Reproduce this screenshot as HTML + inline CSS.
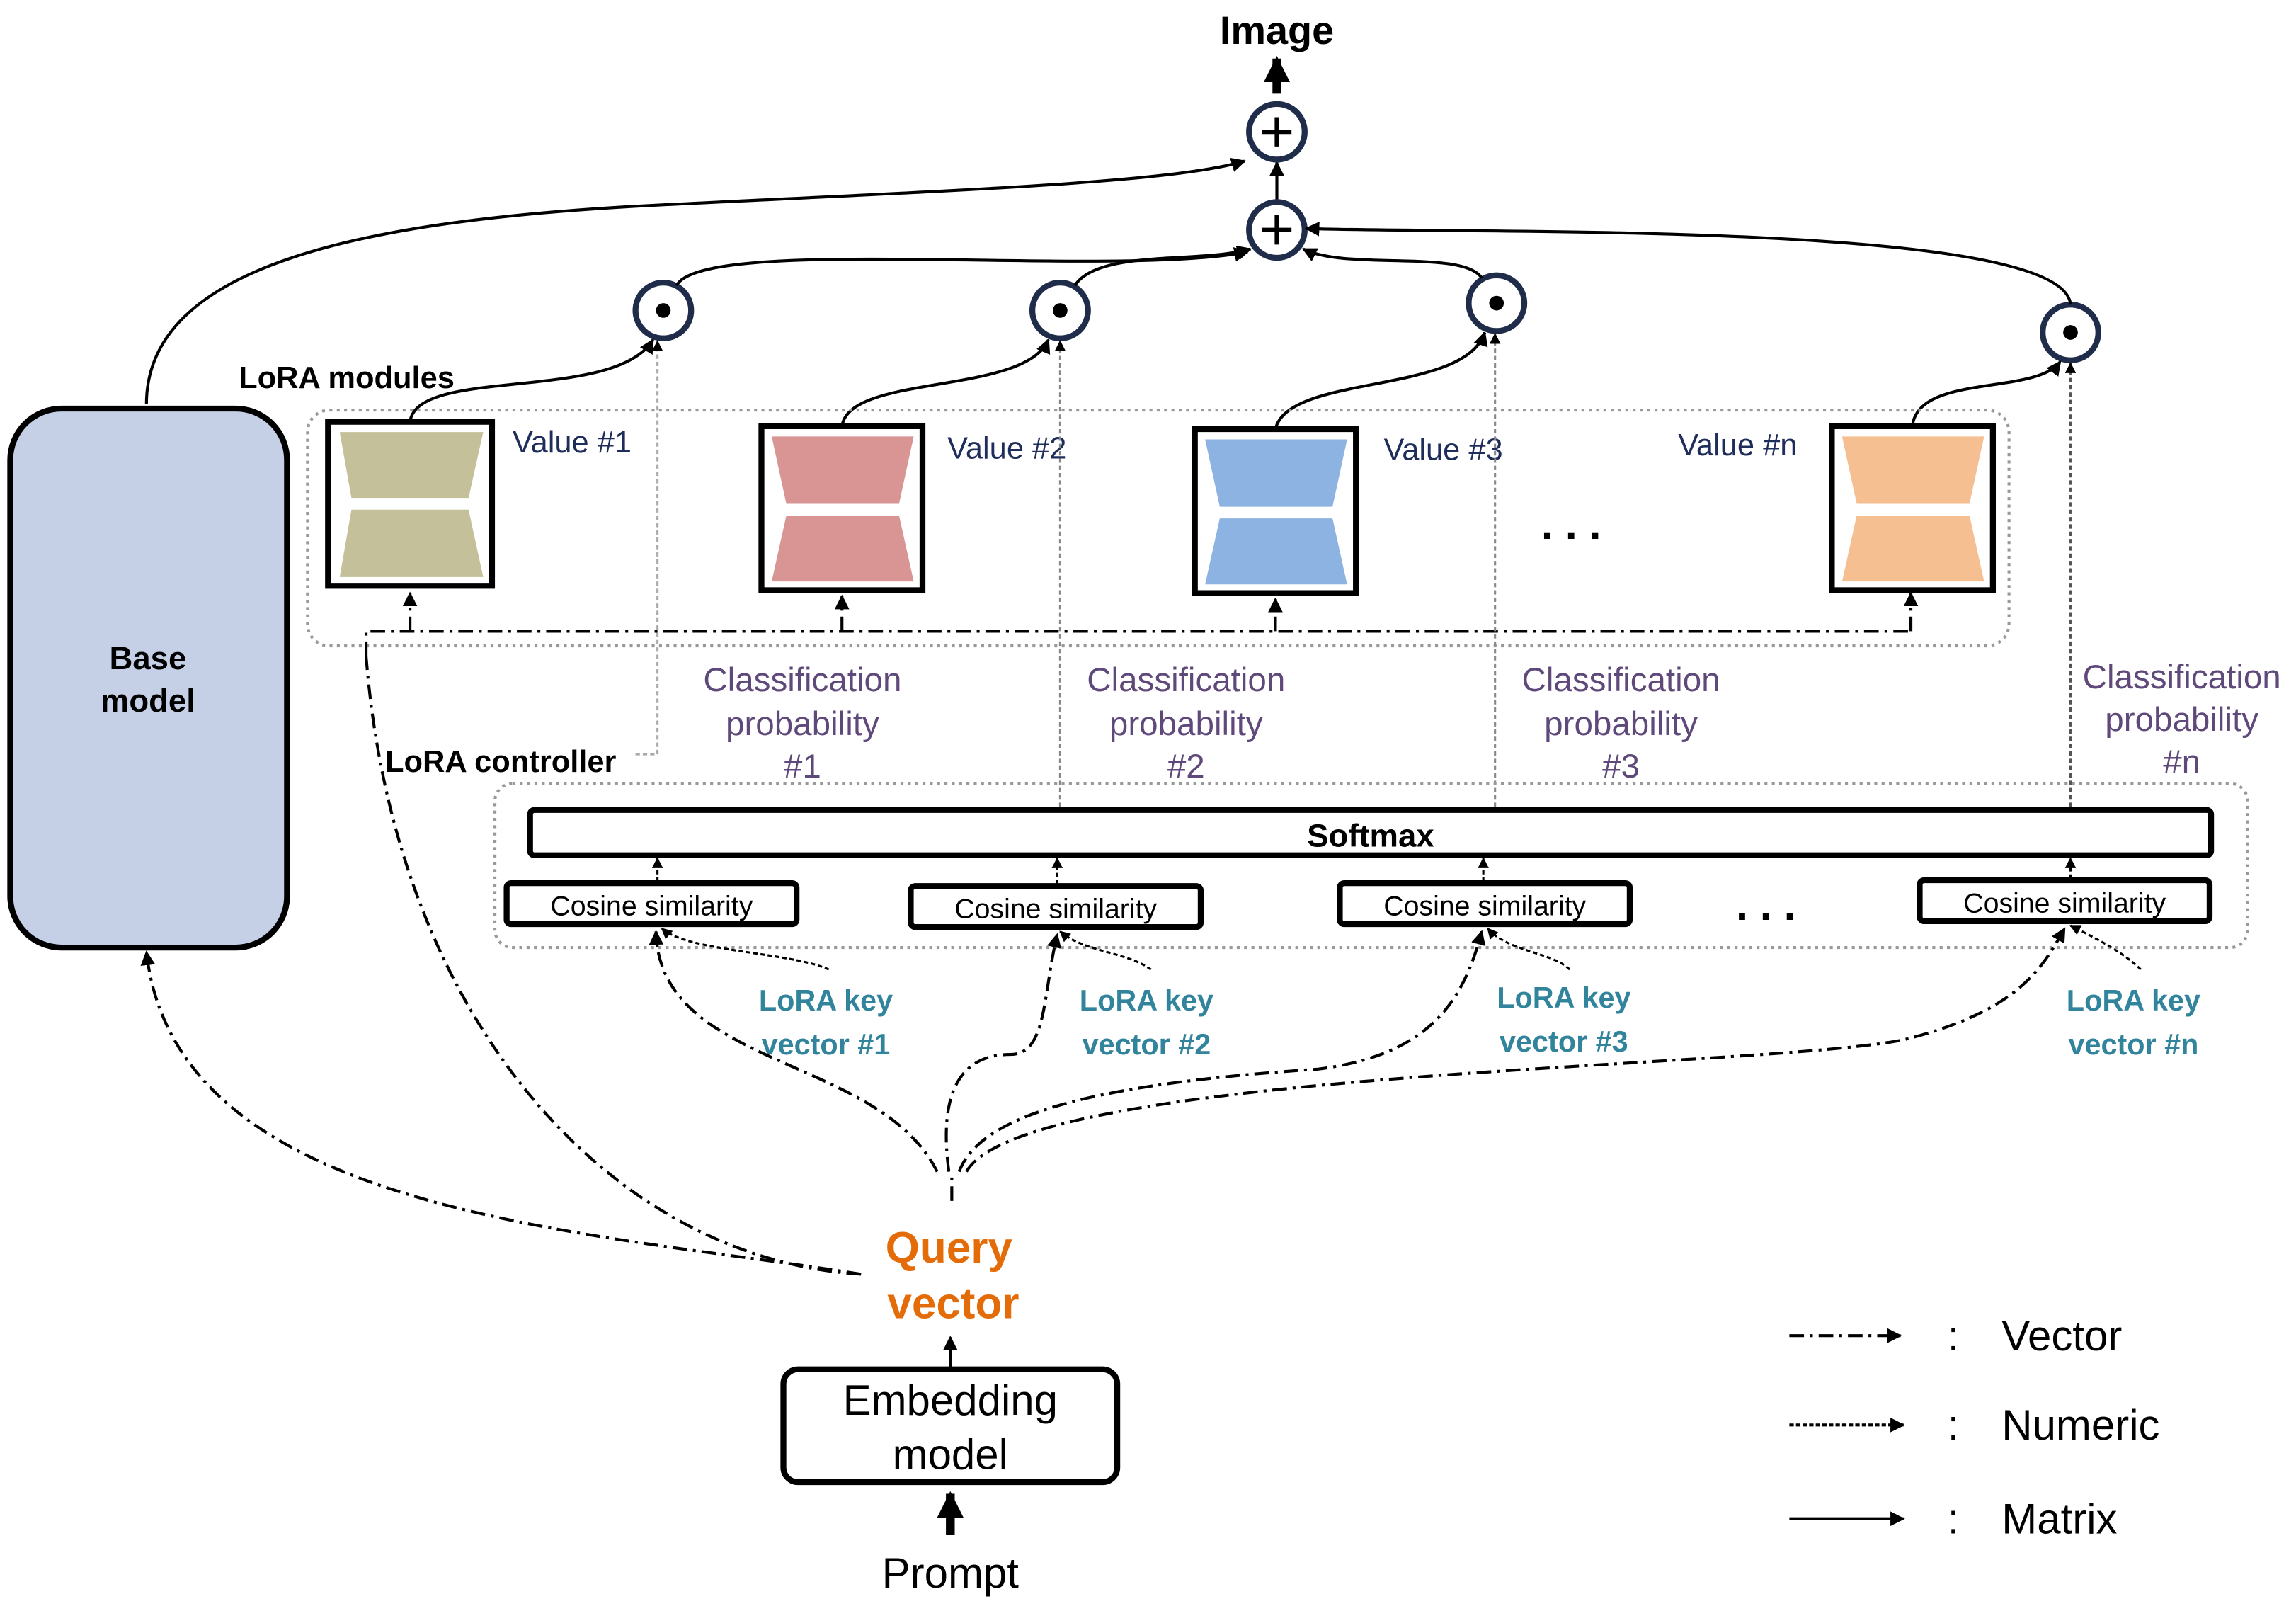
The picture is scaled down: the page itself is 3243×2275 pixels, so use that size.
<!DOCTYPE html>
<html><head><meta charset="utf-8"><style>
html,body{margin:0;padding:0;background:#fff;}
svg{display:block;}
text{font-family:"Liberation Sans",sans-serif;}
</style></head><body>
<svg width="3243" height="2275" viewBox="0 0 1568 1100" preserveAspectRatio="none" xmlns="http://www.w3.org/2000/svg">
<defs>
<marker id="a" viewBox="0 0 10 10" refX="9" refY="5" markerWidth="5" markerHeight="5" orient="auto-start-reverse"><path d="M0,0L10,5L0,10z" fill="#000"/></marker>
<marker id="ab" viewBox="0 0 10 10" refX="9" refY="5" markerWidth="3" markerHeight="3" orient="auto"><path d="M0,0L10,5L0,10z" fill="#000"/></marker>
</defs>
<rect width="1568" height="1100" fill="#fff"/>
<text x="872" y="30" font-size="27" font-weight="bold" text-anchor="middle">Image</text>
<line x1="872" y1="64" x2="872" y2="40" stroke="#000" stroke-width="6" marker-end="url(#ab)"/>
<line x1="872" y1="138" x2="872" y2="111" stroke="#000" stroke-width="2" marker-end="url(#a)"/>
<g stroke="#1f2d4a" stroke-width="4" fill="#fff">
<circle cx="872" cy="90" r="19"/><circle cx="872" cy="157" r="19"/>
<circle cx="453" cy="212" r="19"/><circle cx="724" cy="212" r="19"/><circle cx="1022" cy="207" r="19"/><circle cx="1414" cy="227" r="19"/>
</g>
<g stroke="#000" stroke-width="3"><line x1="862" y1="90" x2="882" y2="90"/><line x1="872" y1="80" x2="872" y2="100"/><line x1="862" y1="157" x2="882" y2="157"/><line x1="872" y1="147" x2="872" y2="167"/></g>
<g fill="#000"><circle cx="453" cy="212" r="5"/><circle cx="724" cy="212" r="5"/><circle cx="1022" cy="207" r="5"/><circle cx="1414" cy="227" r="5"/></g>
<g fill="none" stroke="#000" stroke-width="2">
<path d="M100,276 C100,180 250,150 450,140 C650,130 800,125 850,110" marker-end="url(#a)"/>
<path d="M462,195 C480,160 760,190 852,172" marker-end="url(#a)"/>
<path d="M734,195 C750,170 820,180 854,170" marker-end="url(#a)"/>
<path d="M1012,190 C1000,170 920,185 890,170" marker-end="url(#a)"/>
<path d="M1414,208 C1410,150 1000,160 892,156" marker-end="url(#a)"/>
<path d="M280,288 C285,250 420,275 446,232" marker-end="url(#a)"/>
<path d="M575,291 C580,255 700,270 716,232" marker-end="url(#a)"/>
<path d="M871,293 C880,255 1000,270 1014,227" marker-end="url(#a)"/>
<path d="M1306,291 C1310,255 1390,270 1407,247" marker-end="url(#a)"/>
</g>
<rect x="7" y="279" width="189" height="368" rx="35" fill="#c5d0e6" stroke="#000" stroke-width="4"/>
<text x="101" y="457" font-size="22" font-weight="bold" text-anchor="middle">Base</text>
<text x="101" y="486" font-size="22" font-weight="bold" text-anchor="middle">model</text>
<text x="163" y="265" font-size="21" font-weight="bold">LoRA modules</text>
<rect x="210" y="280" width="1162" height="161" rx="15" fill="none" stroke="#999" stroke-width="2" stroke-dasharray="2,3"/>
<g stroke="#000" stroke-width="4" fill="#fff">
<rect x="224" y="288" width="112" height="112"/><rect x="520" y="291" width="110" height="112"/><rect x="816" y="293" width="110" height="112"/><rect x="1251" y="291" width="110" height="112"/>
</g>
<g>
<path d="M232,295H330L320,340H240Z M240,348H320L330,394H232Z" fill="#c4c09a"/>
<path d="M527,298H624L614,344H537Z M537,352H614L624,397H527Z" fill="#d99594"/>
<path d="M823,300H920L910,346H833Z M833,354H910L920,399H823Z" fill="#8db3e2"/>
<path d="M1258,298H1355L1345,344H1268Z M1268,352H1345L1355,397H1258Z" fill="#f6bf92"/>
</g>
<g font-size="21" fill="#1f2d5a">
<text x="350" y="309">Value #1</text><text x="647" y="313">Value #2</text><text x="945" y="314">Value #3</text><text x="1146" y="311">Value #n</text>
</g>
<text x="1077" y="368" font-size="30" font-weight="bold" text-anchor="middle" letter-spacing="8">...</text>
<g fill="none" stroke="#000" stroke-width="2" stroke-dasharray="10,4,2,4">
<path d="M250,448 V431 H1305"/>
<line x1="280" y1="431" x2="280" y2="405" marker-end="url(#a)"/>
<line x1="575" y1="431" x2="575" y2="407" marker-end="url(#a)"/>
<line x1="871" y1="431" x2="871" y2="409" marker-end="url(#a)"/>
<line x1="1305" y1="431" x2="1305" y2="405" marker-end="url(#a)"/>
</g>
<g stroke-width="1.5" stroke-dasharray="3,2" fill="none">
<path d="M434,515 H449 V233" stroke="#aaa" marker-end="url(#a)"/>
<line x1="724" y1="551" x2="724" y2="233" stroke="#888" marker-end="url(#a)"/>
<line x1="1021" y1="551" x2="1021" y2="228" stroke="#888" marker-end="url(#a)"/>
<line x1="1414" y1="551" x2="1414" y2="248" stroke="#555" marker-end="url(#a)"/>
</g>
<g font-size="23" fill="#5f497a" text-anchor="middle">
<text x="548" y="472">Classification</text><text x="548" y="502">probability</text><text x="548" y="531">#1</text>
<text x="810" y="472">Classification</text><text x="810" y="502">probability</text><text x="810" y="531">#2</text>
<text x="1107" y="472">Classification</text><text x="1107" y="502">probability</text><text x="1107" y="531">#3</text>
<text x="1490" y="470">Classification</text><text x="1490" y="499">probability</text><text x="1490" y="528">#n</text>
</g>
<text x="263" y="527" font-size="21" font-weight="bold">LoRA controller</text>
<rect x="338" y="535" width="1197" height="112" rx="12" fill="none" stroke="#999" stroke-width="2" stroke-dasharray="2,3"/>
<rect x="362" y="553" width="1148" height="31" rx="3" fill="#fff" stroke="#000" stroke-width="4"/>
<text x="936" y="578" font-size="22" font-weight="bold" text-anchor="middle">Softmax</text>
<g stroke="#000" stroke-width="4" fill="#fff">
<rect x="346" y="603" width="198" height="28" rx="3"/><rect x="622" y="605" width="198" height="28" rx="3"/><rect x="915" y="603" width="198" height="28" rx="3"/><rect x="1311" y="601" width="198" height="28" rx="3"/>
</g>
<g font-size="19" text-anchor="middle">
<text x="445" y="625">Cosine similarity</text><text x="721" y="627">Cosine similarity</text><text x="1014" y="625">Cosine similarity</text><text x="1410" y="623">Cosine similarity</text>
</g>
<g stroke="#000" stroke-width="1.5" stroke-dasharray="3,2">
<line x1="449" y1="602" x2="449" y2="586" marker-end="url(#a)"/>
<line x1="722" y1="604" x2="722" y2="586" marker-end="url(#a)"/>
<line x1="1013" y1="602" x2="1013" y2="586" marker-end="url(#a)"/>
<line x1="1414" y1="600" x2="1414" y2="586" marker-end="url(#a)"/>
</g>
<text x="1210" y="628" font-size="30" font-weight="bold" text-anchor="middle" letter-spacing="8">...</text>
<g font-size="20" font-weight="bold" fill="#31849b" text-anchor="middle">
<text x="564" y="690">LoRA key</text><text x="564" y="720">vector #1</text>
<text x="783" y="690">LoRA key</text><text x="783" y="720">vector #2</text>
<text x="1068" y="688">LoRA key</text><text x="1068" y="718">vector #3</text>
<text x="1457" y="690">LoRA key</text><text x="1457" y="720">vector #n</text>
</g>
<g fill="none" stroke="#000" stroke-width="1.5" stroke-dasharray="3,2">
<path d="M566,662 C540,650 470,650 452,634" marker-end="url(#a)"/>
<path d="M786,662 C770,650 740,650 724,636" marker-end="url(#a)"/>
<path d="M1072,662 C1060,650 1030,650 1016,634" marker-end="url(#a)"/>
<path d="M1462,662 C1450,650 1430,640 1414,632" marker-end="url(#a)"/>
</g>
<g fill="none" stroke="#000" stroke-width="2" stroke-dasharray="10,4,2,4">
<path d="M640,800 C600,720 450,730 448,636" marker-end="url(#a)"/>
<path d="M648,800 C640,740 660,720 690,720 C715,720 712,680 722,638" marker-end="url(#a)"/>
<path d="M655,800 C670,760 750,740 900,730 C980,720 1000,680 1012,636" marker-end="url(#a)"/>
<path d="M660,800 C700,730 1200,730 1300,710 C1380,690 1395,660 1410,634" marker-end="url(#a)"/>
<path d="M650,820 V800"/>
<path d="M588,870 C400,840 120,830 100,650" marker-end="url(#a)"/>
<path d="M588,870 C420,860 270,700 250,448"/>
</g>
<text x="648" y="862" font-size="30" font-weight="bold" fill="#e36c09" text-anchor="middle">Query</text>
<text x="651" y="900" font-size="30" font-weight="bold" fill="#e36c09" text-anchor="middle">vector</text>
<line x1="649" y1="934" x2="649" y2="913" stroke="#000" stroke-width="2" marker-end="url(#a)"/>
<rect x="535" y="935" width="228" height="77" rx="10" fill="#fff" stroke="#000" stroke-width="4"/>
<text x="649" y="966" font-size="29" text-anchor="middle">Embedding</text>
<text x="649" y="1003" font-size="29" text-anchor="middle">model</text>
<line x1="649" y1="1048" x2="649" y2="1020" stroke="#000" stroke-width="6" marker-end="url(#ab)"/>
<text x="649" y="1084" font-size="29" text-anchor="middle">Prompt</text>
<g stroke="#000" stroke-width="2">
<line x1="1222" y1="912" x2="1298" y2="912" stroke-dasharray="10,4,2,4" marker-end="url(#a)"/>
<line x1="1222" y1="973" x2="1300" y2="973" stroke-dasharray="3,1.5" marker-end="url(#a)"/>
<line x1="1222" y1="1037" x2="1300" y2="1037" marker-end="url(#a)"/>
</g>
<g font-size="29">
<text x="1330" y="922">:</text><text x="1367" y="922">Vector</text>
<text x="1330" y="983">:</text><text x="1367" y="983">Numeric</text>
<text x="1330" y="1047">:</text><text x="1367" y="1047">Matrix</text>
</g>
</svg>
</body></html>
